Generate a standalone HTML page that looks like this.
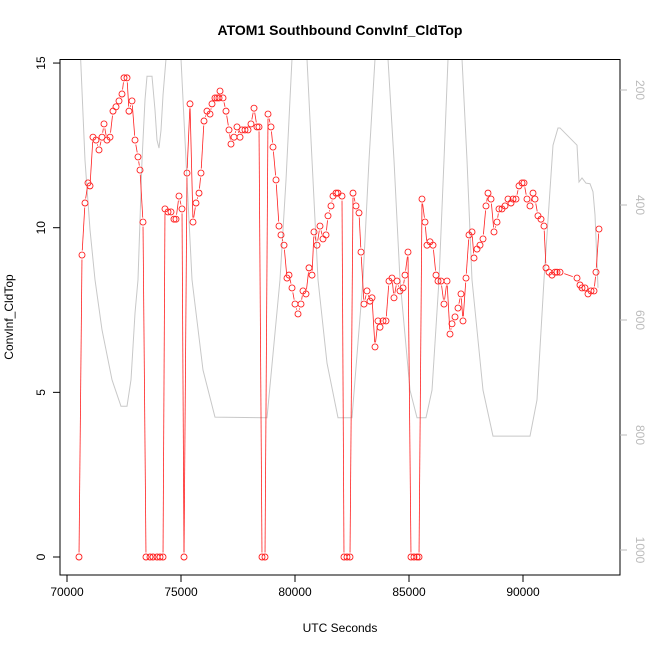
<!DOCTYPE html>
<html><head><meta charset="utf-8"><style>
body{margin:0;background:#fff}
svg{display:block;font-family:"Liberation Sans",sans-serif}
</style></head><body>
<svg id="chart" width="650" height="650" viewBox="0 0 650 650">
<text x="340" y="35" text-anchor="middle" font-size="14" font-weight="bold">ATOM1 Southbound ConvInf_CldTop</text>
<text x="340" y="632" text-anchor="middle" font-size="12">UTC Seconds</text>
<text transform="translate(13,317) rotate(-90)" text-anchor="middle" font-size="12">ConvInf_CldTop</text>
<defs><clipPath id="clip"><rect x="60" y="59" width="560" height="516"/></clipPath></defs>
<g id="grey" clip-path="url(#clip)"></g>
<g id="red"></g>
<g id="axes"></g>
</svg>
<script>
const xSec=[70526,70658,70789,70921,71009,71140,71272,71404,71535,71623,71754,71886,72018,72149,72281,72412,72500,72632,72719,72851,72983,73114,73202,73333,73465,73640,73772,73947,74079,74211,74298,74430,74561,74693,74781,74912,75044,75132,75263,75395,75526,75658,75790,75877,76009,76140,76272,76360,76491,76579,76667,76711,76842,76974,77105,77193,77325,77456,77588,77676,77807,77939,78070,78202,78333,78421,78553,78684,78816,78947,79035,79167,79298,79386,79518,79649,79737,79869,80000,80132,80263,80351,80482,80614,80746,80833,80965,81096,81228,81360,81447,81579,81667,81798,81886,82061,82149,82281,82412,82544,82675,82807,82895,83026,83158,83290,83377,83509,83640,83728,83860,83991,84123,84254,84342,84474,84605,84737,84825,84956,85088,85219,85351,85439,85570,85702,85790,85921,86053,86184,86272,86404,86535,86667,86798,86886,87018,87149,87281,87368,87500,87632,87763,87851,87983,88114,88246,88377,88465,88597,88728,88860,88948,89079,89211,89342,89474,89562,89693,89825,89956,90044,90175,90307,90439,90526,90658,90789,90921,91009,91140,91272,91404,91491,91623,92369,92500,92588,92719,92851,92983,93114,93202,93333];
const cldTop=[0,9.17,10.75,11.36,11.27,12.75,12.66,12.36,12.75,13.15,12.66,12.75,13.54,13.67,13.85,14.06,14.55,14.55,13.54,13.85,12.66,12.15,11.75,10.17,0,0,0,0,0,0,10.57,10.48,10.48,10.26,10.26,10.96,10.57,0,11.66,13.76,10.17,10.75,11.05,11.66,13.24,13.54,13.45,13.76,13.94,13.94,13.94,14.15,13.94,13.54,12.97,12.54,12.75,13.06,12.75,12.97,12.97,12.97,13.15,13.63,13.06,13.06,0,0,13.45,13.06,12.45,11.45,10.05,9.78,9.47,8.47,8.56,8.17,7.68,7.38,7.68,8.08,7.99,8.78,8.56,9.87,9.47,10.05,9.66,9.78,10.36,10.66,10.96,11.05,11.05,10.96,0,0,0,11.05,10.66,10.45,9.26,7.68,8.08,7.77,7.87,6.38,7.17,6.98,7.17,7.17,8.38,8.47,7.87,8.38,8.08,8.17,8.56,9.26,0,0,0,0,10.87,10.17,9.47,9.57,9.47,8.56,8.38,8.38,7.68,8.38,6.77,7.08,7.29,7.56,7.99,7.17,8.47,9.78,9.87,9.08,9.35,9.47,9.66,10.66,11.05,10.87,9.87,10.17,10.57,10.57,10.66,10.87,10.75,10.87,10.87,11.27,11.36,11.36,10.87,10.66,11.05,10.87,10.36,10.26,10.05,8.78,8.65,8.56,8.65,8.65,8.65,8.47,8.26,8.17,8.17,7.99,8.08,8.08,8.65,9.96];
const pSec=[70570,70789,71009,71228,71535,71974,72368,72632,72807,72983,73114,73290,73421,73509,73728,73860,73947,74035,74123,74211,74342,74430,74868,75000,75263,75483,75965,76491,78772,79342,79605,79868,79956,80438,80526,80746,81009,81404,81886,82500,82982,83246,83509,83600,83990,84079,84342,84605,85044,85351,85746,86009,86316,86535,86711,86800,87237,87325,87544,87763,88246,88684,90307,90614,90746,90921,91316,91535,91623,92369,92456,92588,92763,92939,93070,93158,93290];
const pressure=[120,322,443,530,617,704,750,750,704,588,530,322,217,176,176,235,287,301,270,209,146,78,78,146,357,530,687,769,770,530,357,146,78,78,146,322,530,675,770,770,530,322,146,78,78,146,322,530,722,770,770,722,530,322,146,78,78,146,322,530,722,802,802,739,649,530,296,266,266,296,360,353,362,363,377,417,544];
const leftTicks=[0,5,10,15];
const xTicks=[70000,75000,80000,85000,90000];
const rightTicks=[200,400,600,800,1000];

const NS='http://www.w3.org/2000/svg';
const X=s=>67+(s-70000)*0.0228;
const YL=v=>557-v*32.93;
const YR=p=>90+(p-200)*0.575;
function mk(tag,attrs,parent){const e=document.createElementNS(NS,tag);for(const k in attrs)e.setAttribute(k,attrs[k]);parent.appendChild(e);return e;}

const grey=document.getElementById('grey');
const gl=mk('polyline',{points:pSec.map((s,i)=>X(s)+','+YR(pressure[i])).join(' '),fill:'none',stroke:'#c8c8c8','stroke-width':1},grey);



const red=document.getElementById('red');
const r=3;
for(let i=0;i<xSec.length-1;i++){
  const x1=X(xSec[i]),y1=YL(cldTop[i]),x2=X(xSec[i+1]),y2=YL(cldTop[i+1]);
  const dx=x2-x1,dy=y2-y1,L=Math.hypot(dx,dy);
  const g=r+1.5;
  if(L<=2*g+0.5)continue;
  const ux=dx/L,uy=dy/L;
  const seg=mk('line',{x1:x1+ux*g,y1:y1+uy*g,x2:x2-ux*g,y2:y2-uy*g,stroke:'#ff2020','stroke-width':0.8},red);
  
  
}
for(let i=0;i<xSec.length;i++){
  const c=mk('circle',{cx:X(xSec[i]),cy:YL(cldTop[i]),r:r,fill:'none',stroke:'#ff2020','stroke-width':0.9},red);
  
  
}

const ax=document.getElementById('axes');
const box=mk('rect',{x:60,y:59.5,width:560,height:515.5,fill:'none',stroke:'#000','stroke-width':1},ax);


leftTicks.forEach(v=>{
  const y=YL(v);
  mk('line',{x1:53,x2:60,y1:y,y2:y,stroke:'#000'},ax);
  const t=mk('text',{transform:`translate(45,${y}) rotate(-90)`,'text-anchor':'middle','font-size':12},ax);
  t.textContent=v;
  
  
});
xTicks.forEach(v=>{
  const x=X(v);
  mk('line',{x1:x,x2:x,y1:575,y2:582,stroke:'#000'},ax);
  const t=mk('text',{x:x,y:596,'text-anchor':'middle','font-size':12},ax);
  t.textContent=v;
  
  
});
rightTicks.forEach(v=>{
  const y=YR(v);
  mk('line',{x1:620,x2:627,y1:y,y2:y,stroke:'#bbb'},ax);
  const t=mk('text',{transform:`translate(636,${y}) rotate(90)`,'text-anchor':'middle','font-size':12,fill:'#bbb'},ax);
  t.textContent=v;
  
  
});
</script>
</body></html>
